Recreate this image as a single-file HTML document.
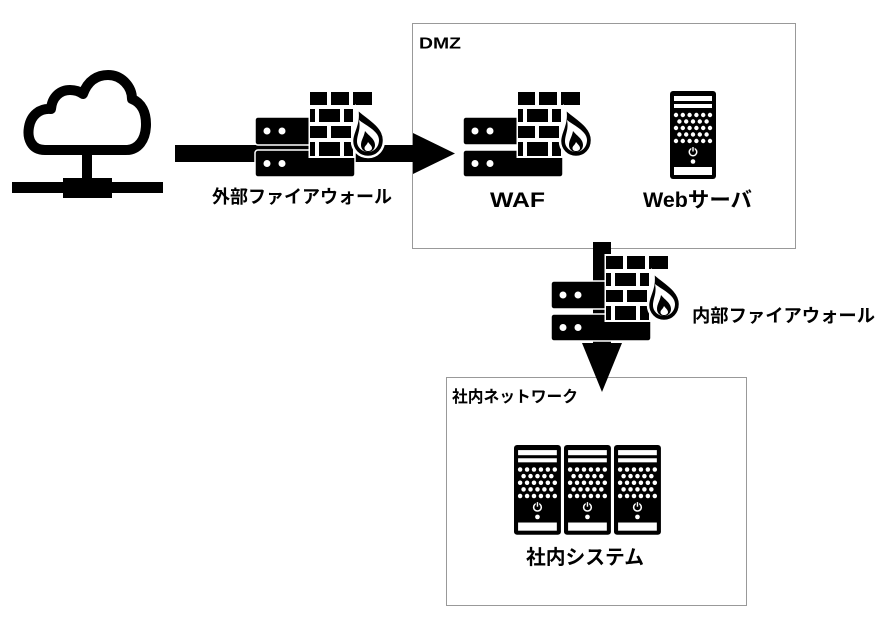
<!DOCTYPE html>
<html>
<head>
<meta charset="utf-8">
<style>
html,body{margin:0;padding:0;background:#fff;}
svg{display:block;}
text{font-family:"Liberation Sans","Noto Sans CJK JP",sans-serif;font-weight:bold;fill:#000;}
</style>
</head>
<body>
<svg width="883" height="624" viewBox="0 0 883 624" xmlns="http://www.w3.org/2000/svg">
<defs>
  <g id="tower">
    <rect x="0" y="0" width="46" height="88" rx="3" fill="#000"/>
    <rect x="4" y="5" width="38" height="5" fill="#fff"/>
    <rect x="4" y="13" width="38" height="4" fill="#fff"/>
    <g fill="#fff">
      <circle cx="6" cy="24" r="2.2"/><circle cx="12.8" cy="24" r="2.2"/><circle cx="19.6" cy="24" r="2.2"/><circle cx="26.4" cy="24" r="2.2"/><circle cx="33.2" cy="24" r="2.2"/><circle cx="40" cy="24" r="2.2"/>
      <circle cx="9.4" cy="30.5" r="2.2"/><circle cx="16.2" cy="30.5" r="2.2"/><circle cx="23" cy="30.5" r="2.2"/><circle cx="29.8" cy="30.5" r="2.2"/><circle cx="36.6" cy="30.5" r="2.2"/>
      <circle cx="6" cy="37" r="2.2"/><circle cx="12.8" cy="37" r="2.2"/><circle cx="19.6" cy="37" r="2.2"/><circle cx="26.4" cy="37" r="2.2"/><circle cx="33.2" cy="37" r="2.2"/><circle cx="40" cy="37" r="2.2"/>
      <circle cx="9.4" cy="43.5" r="2.2"/><circle cx="16.2" cy="43.5" r="2.2"/><circle cx="23" cy="43.5" r="2.2"/><circle cx="29.8" cy="43.5" r="2.2"/><circle cx="36.6" cy="43.5" r="2.2"/>
      <circle cx="6" cy="50" r="2.2"/><circle cx="12.8" cy="50" r="2.2"/><circle cx="19.6" cy="50" r="2.2"/><circle cx="26.4" cy="50" r="2.2"/><circle cx="33.2" cy="50" r="2.2"/><circle cx="40" cy="50" r="2.2"/>
    </g>
    <circle cx="23" cy="61" r="4.5" fill="#fff"/>
    <circle cx="23" cy="61" r="3" fill="#000"/>
    <rect x="21.3" y="55.5" width="3.4" height="3.5" fill="#000"/>
    <rect x="22.3" y="56" width="1.4" height="4.5" fill="#fff"/>
    <circle cx="23" cy="70.5" r="2.3" fill="#fff"/>
    <rect x="4" y="76" width="38" height="8" fill="#fff"/>
  </g>
  <g id="fw">
    <!-- servers -->
    <rect x="0" y="0" width="100" height="28" rx="3" fill="#000" stroke="#fff" stroke-width="1.5"/>
    <rect x="0" y="33" width="100" height="27" rx="3" fill="#000" stroke="#fff" stroke-width="1.5"/>
    <g fill="#fff">
      <circle cx="12" cy="14" r="3.5"/><circle cx="27" cy="14" r="3.5"/>
      <circle cx="12" cy="46.5" r="3.5"/><circle cx="27" cy="46.5" r="3.5"/>
    </g>
    <!-- wall background -->
    <rect x="53.5" y="-27" width="46" height="68" fill="#fff"/>
    <rect x="96" y="-27" width="23" height="17" fill="#fff"/>
    <!-- bricks -->
    <g fill="#000">
      <rect x="55" y="-25" width="17" height="13"/>
      <rect x="76" y="-25" width="18" height="13"/>
      <rect x="98" y="-25" width="19" height="13"/>
      <rect x="55" y="-8" width="5" height="13"/>
      <rect x="64" y="-8" width="21" height="13"/>
      <rect x="89" y="-8" width="9" height="13"/>
      <rect x="55" y="9" width="17" height="12"/>
      <rect x="76" y="9" width="20" height="12"/>
      <rect x="55" y="25" width="5" height="14"/>
      <rect x="64" y="25" width="21" height="14"/>
      <rect x="89" y="25" width="9" height="14"/>
    </g>
    <!-- flame -->
    <path d="M102 -9 C110 0 129 8 129 23 C129 33 122 40 113 40 C104 40 97 33 97 24 C97 14 105 8 102 -9 Z" fill="#000" stroke="#fff" stroke-width="2.5"/>
    <path d="M104 3 C110 8 124 14 124 23 C124 30 119 35 113 35 C107 35 102 30 102 24.5 C102 17 106 13 104 3 Z" fill="#fff"/>
    <path d="M110 14 C114 19 120 22 120 28 C120 32 117 35 113 35 C109 35 106 32 106 28 C106 23 109 20 110 14 Z" fill="#000"/>
    <path d="M113 25 C115 27.5 117 29 117 31 C117 33 115 34 113 34 C111 34 109.5 33 109.5 31 C109.5 29 112 28 113 25 Z" fill="#fff"/>
  </g>
</defs>

<!-- group boxes -->
<rect x="412.5" y="23.5" width="383" height="225" fill="none" stroke="#999" stroke-width="1"/>
<rect x="446.5" y="377.5" width="300" height="228" fill="none" stroke="#999" stroke-width="1"/>

<!-- cloud / network icon -->
<path d="M45 150 C31 150 27 138 29 127 C31 115 40 108 51 109 C52 97 60 90 70 90 C74 90 79 91 83 94 C88 80 98 75 108 75 C122 75 132 87 132 99 C142 103 146 113 146 124 C146 140 138 150 126 150 Z" fill="none" stroke="#000" stroke-width="10" stroke-linejoin="round"/>
<rect x="82" y="155" width="10" height="25" fill="#000"/>
<rect x="12" y="182" width="151" height="11" fill="#000"/>
<rect x="63" y="178" width="49" height="20" fill="#000"/>

<!-- horizontal arrow -->
<rect x="175" y="145" width="240" height="17" fill="#000"/>
<polygon points="413,133 455,153.5 413,174" fill="#000"/>

<!-- vertical arrow -->
<rect x="593" y="242" width="18" height="103" fill="#000"/>
<polygon points="582,343 622,343 602,392" fill="#000"/>

<!-- firewalls -->
<use href="#fw" transform="translate(255,117)"/>
<use href="#fw" transform="translate(463,117)"/>
<use href="#fw" transform="translate(551,281)"/>

<!-- servers -->
<use href="#tower" transform="translate(670,91)"/>
<use href="#tower" transform="translate(514,445) scale(1.02)"/>
<use href="#tower" transform="translate(564,445) scale(1.02)"/>
<use href="#tower" transform="translate(614,445) scale(1.02)"/>

<!-- labels -->
<text x="419" y="48.5" font-size="16" textLength="42" lengthAdjust="spacingAndGlyphs">DMZ</text>
<text x="490" y="207" font-size="21" textLength="55" lengthAdjust="spacingAndGlyphs">WAF</text>
<text x="643" y="207" font-size="21" textLength="109" lengthAdjust="spacingAndGlyphs">Webサーバ</text>
<text x="212" y="203" font-size="18" textLength="180" lengthAdjust="spacingAndGlyphs">外部ファイアウォール</text>
<text x="692" y="322" font-size="18" textLength="183" lengthAdjust="spacingAndGlyphs">内部ファイアウォール</text>
<text x="452" y="402" font-size="16" textLength="126" lengthAdjust="spacingAndGlyphs">社内ネットワーク</text>
<text x="526" y="564" font-size="20" textLength="118" lengthAdjust="spacingAndGlyphs">社内システム</text>
</svg>
</body>
</html>
